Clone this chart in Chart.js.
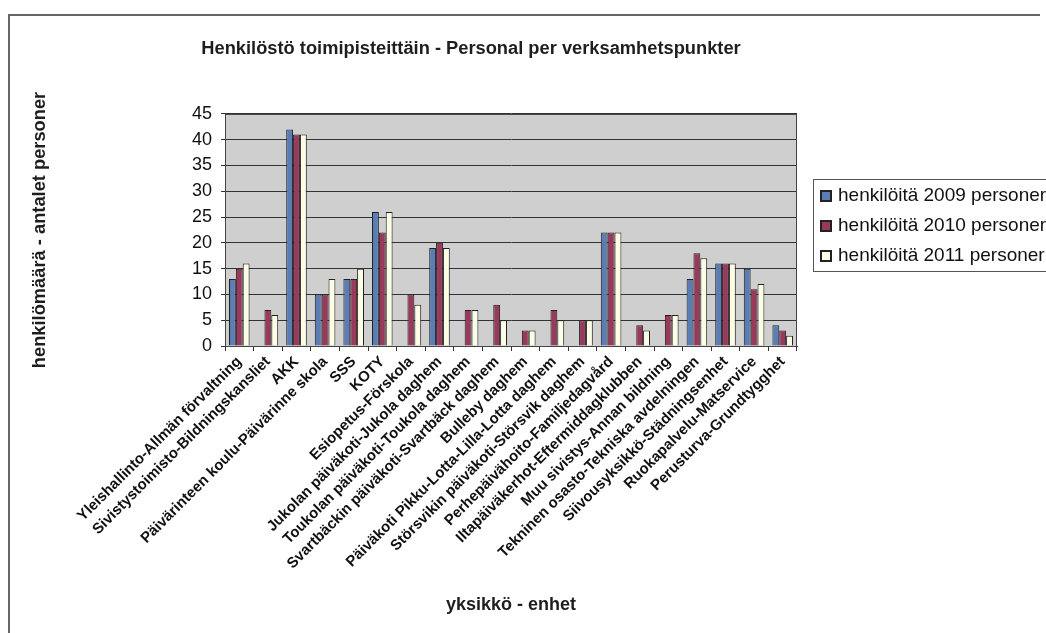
<!DOCTYPE html>
<html>
<head>
<meta charset="utf-8">
<script src="https://cdn.jsdelivr.net/npm/chart.js@4.4.1/dist/chart.umd.min.js"></script>
<style>
  html, body { margin: 0; padding: 0; background: #ffffff; }
  #wrap { width: 1046px; height: 633px; position: relative; }
  canvas { display: block; }
</style>
</head>
<body>
<div id="wrap"><canvas id="c" width="1046" height="633"></canvas></div>
<script>
const categories = [
  'Yleishallinto-Allmän förvaltning',
  'Sivistystoimisto-Bildningskansliet',
  'AKK',
  'Päivärinteen koulu-Päivärinne skola',
  'SSS',
  'KOTY',
  'Esiopetus-Förskola',
  'Jukolan päiväkoti-Jukola daghem',
  'Toukolan päiväkoti-Toukola daghem',
  'Svartbäckin päiväkoti-Svartbäck daghem',
  'Bulleby daghem',
  'Päiväkoti Pikku-Lotta-Lilla-Lotta daghem',
  'Störsvikin päiväkoti-Störsvik daghem',
  'Perhepäivähoito-Familjedagvård',
  'Iltapäiväkerhot-Eftermiddagklubben',
  'Muu sivistys-Annan bildning',
  'Tekninen osasto-Tekniska avdelningen',
  'Siivousyksikkö-Städningsenhet',
  'Ruokapalvelu-Matservice',
  'Perusturva-Grundtygghet'
];
const seriesLabels = ['henkilöitä 2009 personer', 'henkilöitä 2010 personer', 'henkilöitä 2011 personer'];
const values2009 = [13, 0, 42, 10, 13, 26, 0, 19, 0, 0, 0, 0, 0, 22, 0, 0, 13, 16, 15, 4];
const values2010 = [15, 7, 41, 10, 13, 22, 10, 20, 7, 8, 3, 7, 5, 22, 4, 6, 18, 16, 11, 3];
const values2011 = [16, 6, 41, 13, 15, 26, 8, 19, 7, 5, 3, 5, 5, 22, 3, 6, 17, 16, 12, 2];
const yTickValues = [0, 5, 10, 15, 20, 25, 30, 35, 40, 45];
const chartTitle = 'Henkilöstö toimipisteittäin - Personal per verksamhetspunkter';
const xTitle = 'yksikkö - enhet';
const yTitle = 'henkilömäärä - antalet personer';

const FONT = '"Liberation Sans", Arial, sans-serif';
const seriesColors = ['#5b7db4', '#993a5d', '#fdfde6'];

const frameAndPlot = {
  id: 'frameAndPlot',
  beforeDraw(chart) {
    const ctx = chart.ctx;
    const a = chart.chartArea;
    ctx.save();
    ctx.fillStyle = '#ffffff';
    ctx.fillRect(0, 0, chart.width, chart.height);
    ctx.strokeStyle = '#666666';
    ctx.lineWidth = 2;
    ctx.beginPath();
    ctx.moveTo(9, chart.height);
    ctx.lineTo(9, 15);
    ctx.lineTo(1040, 15);
    ctx.stroke();
    ctx.fillStyle = '#cfcfcf';
    ctx.fillRect(a.left, a.top, a.right - a.left, a.bottom - a.top);
    ctx.restore();
  },
  beforeDatasetsDraw(chart) {
    const ctx = chart.ctx;
    const a = chart.chartArea;
    ctx.save();
    ctx.strokeStyle = '#444444';
    ctx.lineWidth = 1;
    ctx.strokeRect(a.left + 0.5, a.top + 0.5, a.right - a.left - 1, a.bottom - a.top);
    ctx.restore();
  }
};

const boxLegend = {
  id: 'boxLegend',
  afterDraw(chart) {
    const ctx = chart.ctx;
    const ds = chart.data.datasets;
    const left = 813, top = 179, rowH = 30;
    ctx.save();
    ctx.fillStyle = '#ffffff';
    ctx.fillRect(left, top, 260, rowH * ds.length + 2);
    ctx.strokeStyle = '#555555';
    ctx.lineWidth = 1;
    ctx.strokeRect(left + 0.5, top + 0.5, 260, rowH * ds.length + 2);
    ctx.font = '19px ' + FONT;
    ctx.textBaseline = 'middle';
    ds.forEach((d, i) => {
      const cy = top + rowH * i + 17;
      ctx.fillStyle = d.backgroundColor;
      ctx.fillRect(821, cy - 5, 10, 10);
      ctx.strokeStyle = '#222222';
      ctx.lineWidth = 2;
      ctx.strokeRect(821, cy - 5, 10, 10);
      ctx.fillStyle = '#111111';
      ctx.fillText(d.label, 838, cy);
    });
    ctx.restore();
  }
};

const datasets = [values2009, values2010, values2011].map((vals, i) => ({
  label: seriesLabels[i],
  data: vals,
  backgroundColor: seriesColors[i],
  borderColor: '#222222',
  borderWidth: 1,
  borderSkipped: 'bottom',
  categoryPercentage: 0.72,
  barPercentage: 1.0
}));

new Chart(document.getElementById('c'), {
  type: 'bar',
  data: { labels: categories, datasets },
  options: {
    responsive: false,
    animation: false,
    devicePixelRatio: 1,
    layout: { padding: { left: 8, right: 112, top: 20, bottom: 13 } },
    plugins: {
      legend: { display: false },
      tooltip: { enabled: false },
      title: {
        display: true,
        text: chartTitle,
        color: '#1e1e1e',
        font: { family: FONT, size: 18.3, weight: 'bold' },
        padding: { top: 18, bottom: 54 }
      }
    },
    scales: {
      x: {
        grid: { display: true, drawOnChartArea: false, drawTicks: true, tickLength: 5, color: '#333333', offset: true },
        border: { display: true, color: '#333333' },
        ticks: {
          autoSkip: false,
          minRotation: 45,
          maxRotation: 45,
          padding: 2,
          color: '#111111',
          font: { family: FONT, size: 15, weight: 'bold' }
        },
        title: {
          display: true,
          text: xTitle,
          color: '#1e1e1e',
          font: { family: FONT, size: 18, weight: 'bold' },
          padding: { top: 4, bottom: 4 }
        },
        afterFit(s) { s.height = 620 - 346; s.paddingLeft = 0; s.paddingRight = 0; }
      },
      y: {
        min: 0,
        max: 45,
        afterBuildTicks(s) { s.ticks = yTickValues.map(v => ({ value: v })); },
        ticks: {
          padding: 9,
          color: '#111111',
          font: { family: FONT, size: 18 }
        },
        grid: { color: '#333333', lineWidth: 1, drawTicks: true, tickLength: 4 },
        border: { display: true, color: '#333333' },
        title: {
          display: true,
          text: yTitle,
          color: '#1e1e1e',
          font: { family: FONT, size: 18.3, weight: 'bold' },
          padding: { top: 21, bottom: 0 }
        },
        afterFit(s) { s.width = 225 - 8; }
      },
      spacer: {
        type: 'linear',
        position: 'right',
        display: true,
        grid: { display: false, drawTicks: false },
        border: { display: false },
        ticks: { display: false },
        afterFit(s) { s.width = 934 - 797; }
      }
    }
  },
  plugins: [frameAndPlot, boxLegend]
});
</script>
</body>
</html>
